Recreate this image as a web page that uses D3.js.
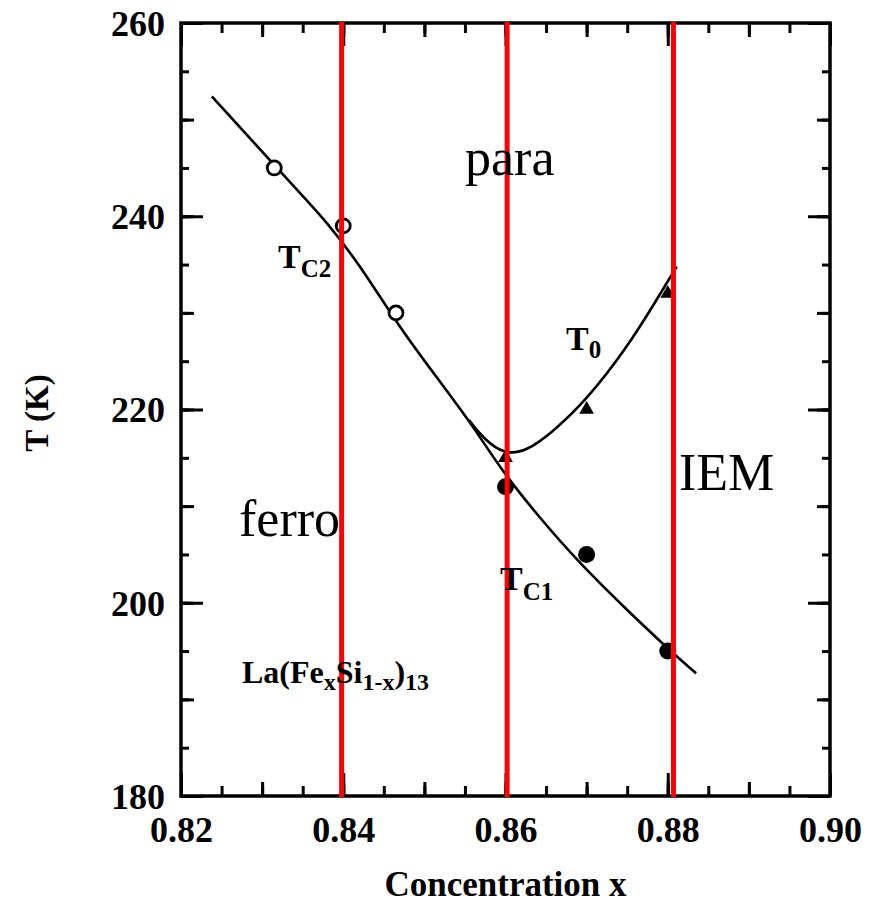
<!DOCTYPE html>
<html>
<head>
<meta charset="utf-8">
<script src="https://cdn.jsdelivr.net/npm/d3@7"></script>
<style>
  html, body { margin: 0; padding: 0; background: #fff; }
  svg { display: block; }
  text { font-family: "Liberation Serif", "Times New Roman", serif; }
</style>
</head>
<body>
<svg id="chart" width="869" height="903"></svg>
<script>
// Phase diagram of La(FexSi1-x)13: transition temperatures vs concentration

// Axis domains and tick labels
const xDomain = [0.82, 0.90];
const yDomain = [180, 260];
const xTickValues = [0.82, 0.84, 0.86, 0.88, 0.90];
const xTickLabels = ["0.82", "0.84", "0.86", "0.88", "0.90"];
const yTickValues = [180, 200, 220, 240, 260];
const yTickLabels = ["180", "200", "220", "240", "260"];

// Measured points
const tc2X = [0.8315, 0.8400, 0.8465];       // open circles
const tc2T = [245, 239, 230];
const tc1X = [0.8600, 0.8700, 0.8800];       // filled circles
const tc1T = [212, 205, 195];
const t0X  = [0.8600, 0.8700, 0.8800];       // triangles
const t0T  = [215, 220, 232];

// Guide curve through TC2 then TC1
const curveCX = [0.8238, 0.8290, 0.8340, 0.8380, 0.8420, 0.8470, 0.8520, 0.8559, 0.8596, 0.8640, 0.8691, 0.8749, 0.8802, 0.8835];
const curveCT = [252.4, 247.6, 243.0, 239.4, 235.0, 228.4, 222.8, 218.4, 213.6, 209.0, 204.1, 199.3, 195.1, 192.7];
// Guide curve for T0
const curve0X = [0.8555, 0.8575, 0.8598, 0.8625, 0.8660, 0.8700, 0.8749, 0.8786, 0.8811];
const curve0T = [218.9, 216.8, 215.4, 215.6, 217.8, 221.0, 226.3, 231.3, 234.8];

// Boundaries between regimes (vertical red lines)
const boundaryX = [0.8398, 0.8602, 0.8807];

const svg = d3.select("#chart");
const margin = { left: 181, top: 23, right: 39, bottom: 107 };
const W = 869 - margin.left - margin.right;
const H = 903 - margin.top - margin.bottom;

const x = d3.scaleLinear().domain(xDomain).range([0, W]);
const y = d3.scaleLinear().domain(yDomain).range([H, 0]);

const g = svg.append("g").attr("transform", `translate(${margin.left},${margin.top})`);

// Inward tick marks on all four sides, three lengths
function tickLayer(axisFn, scale, values, len, transform) {
  const a = axisFn(scale).tickValues(values).tickSize(-len).tickFormat("");
  const layer = g.append("g").attr("transform", transform).call(a);
  layer.select(".domain").remove();
  layer.selectAll(".tick line").attr("stroke", "#000").attr("stroke-width", 3);
  return layer;
}
const xMinor = x.ticks(16), xMid = x.ticks(8), xMajor = x.ticks(4);
const yMinor = y.ticks(16), yMid = y.ticks(8), yMajor = y.ticks(4);
[[xMinor, 10], [xMid, 14], [xMajor, 23]].forEach(([v, l]) => {
  tickLayer(d3.axisBottom, x, v, l, `translate(0,${H})`);
  tickLayer(d3.axisTop, x, v, -l, `translate(0,0)`).selectAll(".tick line").attr("y2", l);
});
[[yMinor, 8], [yMid, 13], [yMajor, 22]].forEach(([v, l]) => {
  tickLayer(d3.axisLeft, y, v, l, `translate(0,0)`);
  tickLayer(d3.axisRight, y, v, -l, `translate(${W},0)`).selectAll(".tick line").attr("x2", -l);
});

// Frame
g.append("rect").attr("x", 0).attr("y", 0).attr("width", W).attr("height", H)
  .attr("fill", "none").attr("stroke", "#000").attr("stroke-width", 3.5);

// Tick labels
const xAxisLabels = d3.axisBottom(x).tickValues(xTickValues)
  .tickFormat((d, i) => xTickLabels[i]).tickSize(0).tickPadding(0);
const xl = g.append("g").attr("transform", `translate(0,${H})`).call(xAxisLabels);
xl.select(".domain").remove();
xl.selectAll("text").attr("font-family", "Liberation Serif").attr("font-weight", "bold")
  .attr("font-size", 36).attr("fill", "#000").attr("dy", null).attr("y", 46);

const yAxisLabels = d3.axisLeft(y).tickValues(yTickValues)
  .tickFormat((d, i) => yTickLabels[i]).tickSize(0).tickPadding(16);
const yl = g.append("g").call(yAxisLabels);
yl.select(".domain").remove();
yl.selectAll("text").attr("font-family", "Liberation Serif").attr("font-weight", "bold")
  .attr("font-size", 36).attr("fill", "#000").attr("dy", "0.34em");

// Axis titles
svg.append("text").attr("x", margin.left + x(0.86)).attr("y", 896)
  .attr("text-anchor", "middle").attr("font-weight", "bold").attr("font-size", 35)
  .text("Concentration x");
svg.append("text").attr("transform", `translate(48,${413}) rotate(-90)`)
  .attr("text-anchor", "middle").attr("font-weight", "bold").attr("font-size", 33)
  .text("T (K)");

// Curves (smoothed guides)
const line = d3.line().x(d => x(d[0])).y(d => y(d[1])).curve(d3.curveBasis);
g.append("path").datum(curveCX.map((v, i) => [v, curveCT[i]]))
  .attr("d", line).attr("fill", "none").attr("stroke", "#000").attr("stroke-width", 2.6);
g.append("path").datum(curve0X.map((v, i) => [v, curve0T[i]]))
  .attr("d", line).attr("fill", "none").attr("stroke", "#000").attr("stroke-width", 2.6);

// Markers
g.selectAll(".tc2").data(tc2X).enter().append("circle")
  .attr("cx", d => x(d)).attr("cy", (d, i) => y(tc2T[i])).attr("r", 7)
  .attr("fill", "#fff").attr("stroke", "#000").attr("stroke-width", 2.8);
g.selectAll(".tc1").data(tc1X).enter().append("circle")
  .attr("cx", d => x(d)).attr("cy", (d, i) => y(tc1T[i])).attr("r", 8.5)
  .attr("fill", "#000");
const tri = d3.symbol().type(d3.symbolTriangle).size(95);
g.selectAll(".t0").data(t0X).enter().append("path")
  .attr("d", tri).attr("transform", (d, i) => `translate(${x(d)},${y(t0T[i])})`)
  .attr("fill", "#000");

// Curve labels
function subLabel(px, py, main, sub, size, subSize, subDy) {
  const t = svg.append("text").attr("x", px).attr("y", py)
    .attr("font-weight", "bold").attr("font-size", size);
  t.append("tspan").text(main);
  t.append("tspan").attr("font-size", subSize).attr("dy", subDy).text(sub);
}
subLabel(278, 268, "T", "C2", 34, 25, 9);
subLabel(500, 590, "T", "C1", 34, 25, 10);
subLabel(566, 350, "T", "0", 34, 25, 8);

// Compound formula
const f = svg.append("text").attr("x", 242).attr("y", 683)
  .attr("font-weight", "bold").attr("font-size", 32);
f.append("tspan").text("La(Fe");
f.append("tspan").attr("font-size", 24).attr("dy", 7).text("x");
f.append("tspan").attr("dy", -7).text("Si");
f.append("tspan").attr("font-size", 24).attr("dy", 7).text("1-x");
f.append("tspan").attr("dy", -7).text(")");
f.append("tspan").attr("font-size", 24).attr("dy", 7).text("13");

// Regime names
const regime = [["para", 465, 175], ["ferro", 239, 536], ["IEM", 679, 490]];
regime.forEach(([s, px, py]) => {
  svg.append("text").attr("x", px).attr("y", py).attr("font-size", 52).text(s);
});

// Regime boundaries
g.selectAll(".bound").data(boundaryX).enter().append("line")
  .attr("x1", d => x(d)).attr("x2", d => x(d)).attr("y1", -1).attr("y2", H + 1)
  .attr("stroke", "#ff0000").attr("stroke-width", 5);
</script>
</body>
</html>
